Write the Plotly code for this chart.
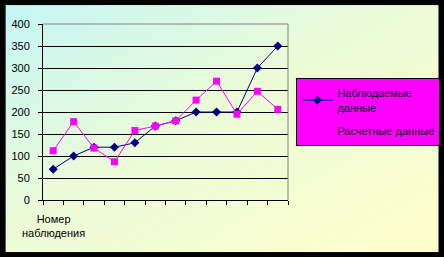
import base64
import plotly.graph_objects as go

observation = list(range(1, 13))
observed = [70, 100, 120, 120, 130, 168, 180, 200, 200, 200, 300, 350]
calculated = [112, 178, 118, 87, 158, 168, 180, 227, 270, 195, 247, 206]
y_ticks = [0, 50, 100, 150, 200, 250, 300, 350, 400]
x_label = "Номер<br>наблюдения"
name_obs = "Наблюдаемые<br>данные"
name_calc = "Расчетные данные"

svg = ('<svg xmlns="http://www.w3.org/2000/svg" width="434" height="248" preserveAspectRatio="none">'
       '<defs><linearGradient id="g" x1="0" y1="0" x2="1" y2="1">'
       '<stop offset="0" stop-color="#c4f6f6"/>'
       '<stop offset="0.45" stop-color="#ecfbd8"/>'
       '<stop offset="1" stop-color="#ffffcc"/>'
       '</linearGradient></defs>'
       '<rect width="434" height="248" fill="url(#g)"/></svg>')
src = "data:image/svg+xml;base64," + base64.b64encode(svg.encode()).decode()

W, H = 444, 257
L, R, T, B = 43.3, 288.3, 23.7, 200.3
pw, ph = R - L, B - T

fig = go.Figure()
fig.add_trace(go.Scatter(
    x=observation, y=observed, name=name_obs, mode="lines+markers",
    line=dict(color="#000080", width=1),
    marker=dict(symbol="diamond", size=7, color="#000080"),
    legendgroup="a"))
fig.add_trace(go.Scatter(
    x=observation, y=calculated, name=name_calc, mode="lines+markers",
    line=dict(color="#ff00ff", width=1),
    marker=dict(symbol="square", size=7, color="#ff00ff"),
    legendgroup="b"))

fig.add_layout_image(dict(
    source=src, xref="paper", yref="paper",
    x=(5.7 - L) / pw, y=(B - 4.7) / ph,
    sizex=(439 - 5.7) / pw, sizey=(252.7 - 4.7) / ph,
    xanchor="left", yanchor="top", sizing="stretch", layer="below"))

fig.add_annotation(x=1, y=(B - 226) / ph, xref="x", yref="paper",
                   text=x_label, showarrow=False,
                   font=dict(family="Arial", size=11, color="black"),
                   xanchor="center", yanchor="middle")

fig.add_shape(type="line", xref="paper", yref="paper", x0=0, x1=1, y0=1, y1=1,
              line=dict(color="#808080", width=1))
fig.add_shape(type="line", xref="paper", yref="paper", x0=1, x1=1, y0=0, y1=1,
              line=dict(color="#808080", width=1))

fig.update_layout(
    width=W, height=H,
    margin=dict(l=L, r=W - R, t=T, b=H - B, autoexpand=False),
    paper_bgcolor="black", plot_bgcolor="rgba(0,0,0,0)",
    font=dict(family="Arial", size=11, color="black"),
    showlegend=True,
    legend=dict(x=(296.7 - L) / pw, y=(B - 78.3) / ph, xanchor="left", yanchor="top",
                bgcolor="#ff00ff", bordercolor="black", borderwidth=1,
                font=dict(family="Arial", size=11, color="black"),
                tracegroupgap=5, itemwidth=30),
    xaxis=dict(range=[0.5, 12.5], tickmode="linear", tick0=0.5, dtick=1,
               showticklabels=False, ticks="outside", ticklen=4, tickcolor="black",
               showgrid=False, zeroline=False, showline=True, linecolor="black", linewidth=1),
    yaxis=dict(range=[0, 400], tickvals=y_ticks, ticks="outside", ticklen=4,
               tickcolor="black", showgrid=True, gridcolor="black", gridwidth=1,
               zeroline=False, showline=True, linecolor="black", linewidth=1,
               tickfont=dict(family="Arial", size=11, color="black"), ticklabelstandoff=6),
)

fig.write_html("out.html")
